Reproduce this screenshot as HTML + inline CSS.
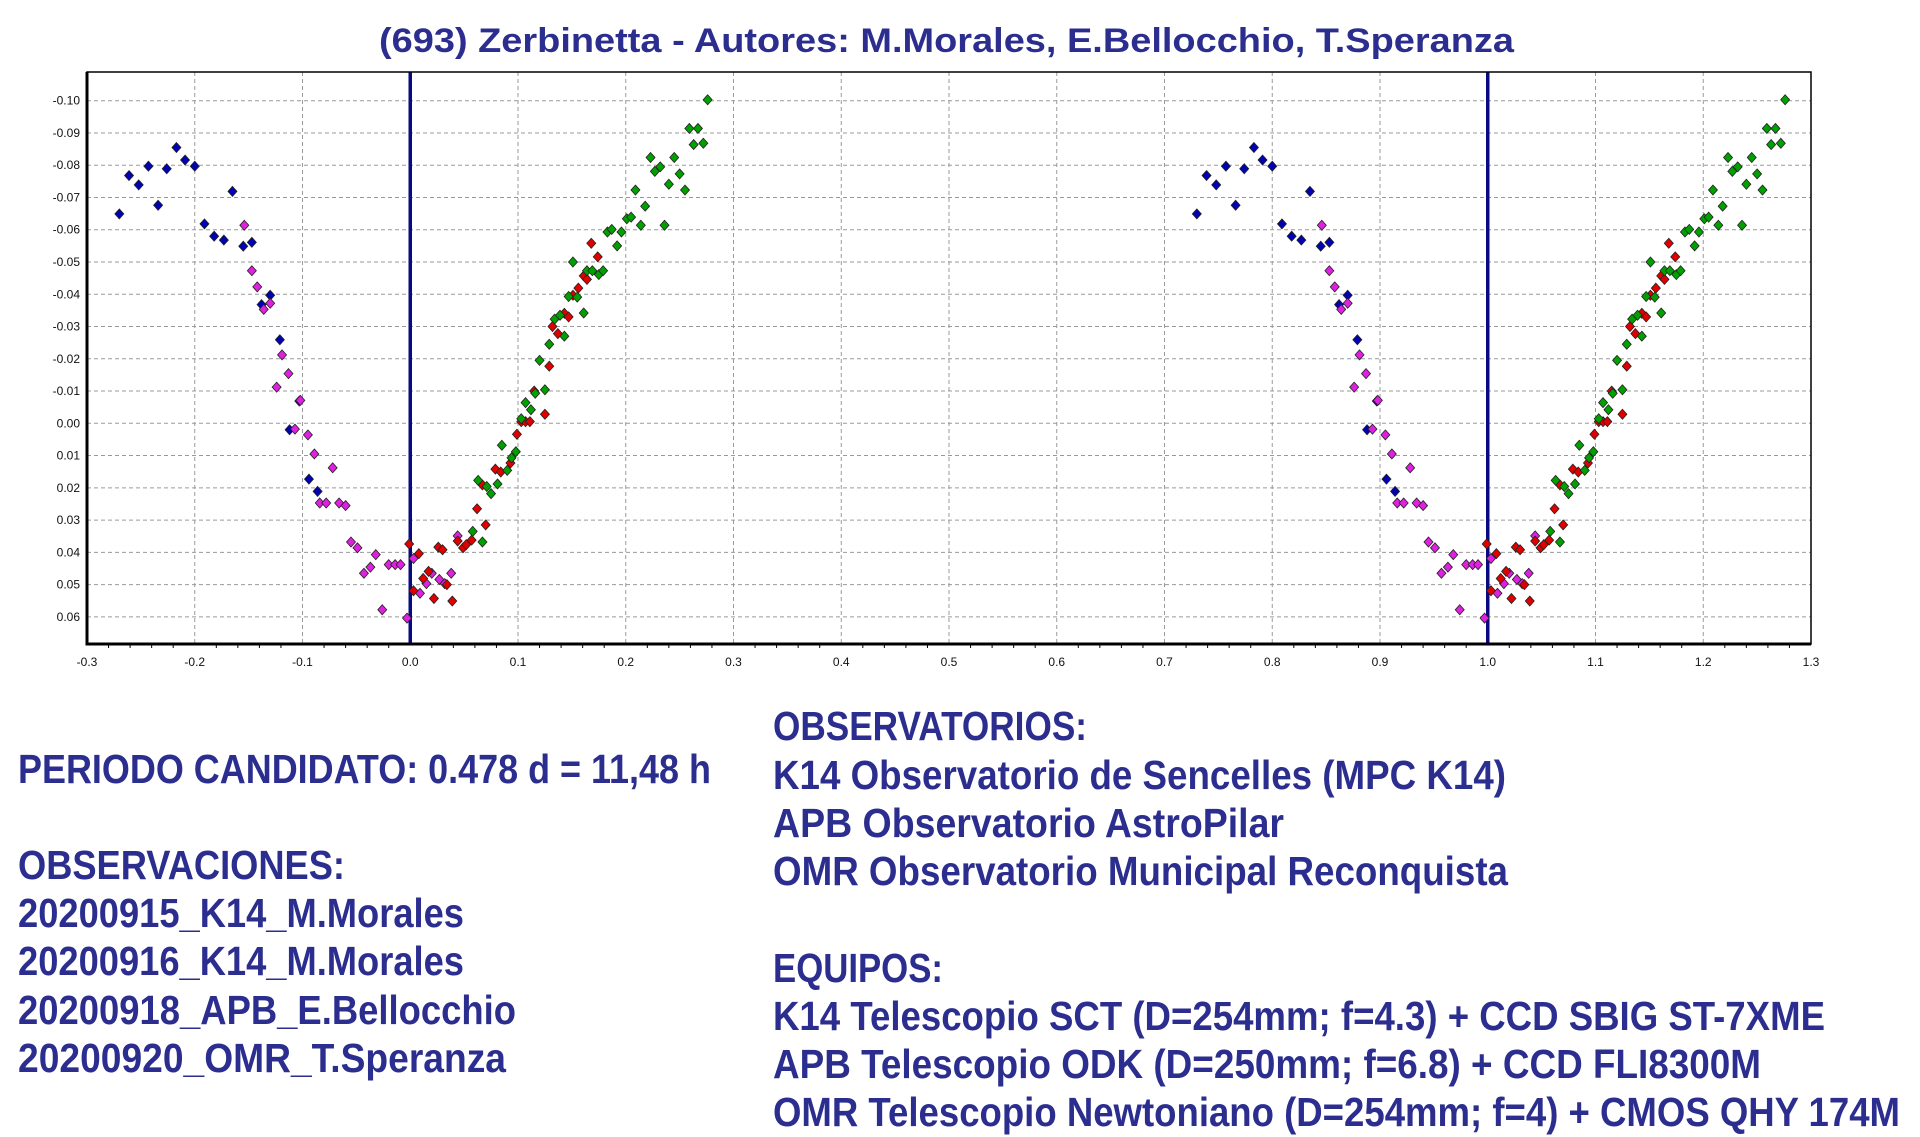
<!DOCTYPE html>
<html><head><meta charset="utf-8"><style>
html,body{margin:0;padding:0;background:#fff;}
svg{display:block;}
.t{font-family:"Liberation Sans",sans-serif;font-weight:bold;fill:#2b2e8e;}
.tick{font-family:"Liberation Sans",sans-serif;font-size:12px;fill:#111;}
</style></head><body>
<svg id="chart" width="1920" height="1137" viewBox="0 0 1920 1137">
<text class="t" x="379" y="52" font-size="34" textLength="1135" lengthAdjust="spacingAndGlyphs">(693) Zerbinetta - Autores: M.Morales, E.Bellocchio, T.Speranza</text>
<g id="grid"></g>
<g id="marks"></g>
<g id="frame"></g>
<g>
<text class="t" x="18" y="783" font-size="41" textLength="693" lengthAdjust="spacingAndGlyphs">PERIODO CANDIDATO: 0.478 d = 11,48 h</text>
<text class="t" x="18" y="879" font-size="41" textLength="327" lengthAdjust="spacingAndGlyphs">OBSERVACIONES:</text>
<text class="t" x="18" y="927" font-size="41" textLength="446" lengthAdjust="spacingAndGlyphs">20200915_K14_M.Morales</text>
<text class="t" x="18" y="975" font-size="41" textLength="446" lengthAdjust="spacingAndGlyphs">20200916_K14_M.Morales</text>
<text class="t" x="18" y="1024" font-size="41" textLength="498" lengthAdjust="spacingAndGlyphs">20200918_APB_E.Bellocchio</text>
<text class="t" x="18" y="1072" font-size="41" textLength="488" lengthAdjust="spacingAndGlyphs">20200920_OMR_T.Speranza</text>
</g>
<g>
<text class="t" x="773" y="740" font-size="41" textLength="314" lengthAdjust="spacingAndGlyphs">OBSERVATORIOS:</text>
<text class="t" x="773" y="789" font-size="41" textLength="733" lengthAdjust="spacingAndGlyphs">K14 Observatorio de Sencelles (MPC K14)</text>
<text class="t" x="773" y="837" font-size="41" textLength="511" lengthAdjust="spacingAndGlyphs">APB Observatorio AstroPilar</text>
<text class="t" x="773" y="885" font-size="41" textLength="735" lengthAdjust="spacingAndGlyphs">OMR Observatorio Municipal Reconquista</text>
<text class="t" x="773" y="982" font-size="41" textLength="170" lengthAdjust="spacingAndGlyphs">EQUIPOS:</text>
<text class="t" x="773" y="1030" font-size="41" textLength="1052" lengthAdjust="spacingAndGlyphs">K14 Telescopio SCT (D=254mm; f=4.3) + CCD SBIG ST-7XME</text>
<text class="t" x="773" y="1078" font-size="41" textLength="988" lengthAdjust="spacingAndGlyphs">APB Telescopio ODK (D=250mm; f=6.8) + CCD FLI8300M</text>
<text class="t" x="773" y="1126" font-size="41" textLength="1127" lengthAdjust="spacingAndGlyphs">OMR Telescopio Newtoniano (D=254mm; f=4) + CMOS QHY 174M</text>
</g>
</svg>
<script>
const xTicks=[-0.3,-0.2,-0.1,0.0,0.1,0.2,0.3,0.4,0.5,0.6,0.7,0.8,0.9,1.0,1.1,1.2,1.3];
const yTicks=[-0.10,-0.09,-0.08,-0.07,-0.06,-0.05,-0.04,-0.03,-0.02,-0.01,0.00,0.01,0.02,0.03,0.04,0.05,0.06];
const markerLines=[0.0,1.0];
const bluePhase=[-0.270,-0.261,-0.252,-0.243,-0.234,-0.226,-0.217,-0.209,-0.200,-0.191,-0.182,-0.173,-0.165,-0.155,-0.147,-0.138,-0.130,-0.121,-0.103,-0.112,-0.094,-0.086];
const blueMag=[-0.0649,-0.0768,-0.0739,-0.0797,-0.0676,-0.0789,-0.0855,-0.0816,-0.0797,-0.0618,-0.0580,-0.0568,-0.0719,-0.0549,-0.0561,-0.0368,-0.0397,-0.0259,-0.0069,0.0020,0.0173,0.0211];
const magentaPhase=[-0.154,-0.147,-0.142,-0.136,-0.130,-0.119,-0.113,-0.124,-0.102,-0.107,-0.095,-0.089,-0.072,-0.084,-0.078,-0.066,-0.060,-0.055,-0.049,-0.032,-0.043,-0.037,-0.020,-0.014,-0.009,-0.026,-0.003,0.003,0.009,0.015,0.020,0.027,0.032,0.038,0.044];
const magentaMag=[-0.0614,-0.0473,-0.0423,-0.0353,-0.0372,-0.0212,-0.0154,-0.0112,-0.0071,0.0018,0.0036,0.0095,0.0138,0.0247,0.0247,0.0247,0.0255,0.0368,0.0386,0.0407,0.0465,0.0446,0.0438,0.0438,0.0438,0.0578,0.0604,0.0419,0.0527,0.0497,0.0465,0.0484,0.0497,0.0465,0.0349];
const redPhase=[-0.001,0.008,0.003,0.012,0.017,0.022,0.026,0.030,0.034,0.039,0.044,0.049,0.052,0.057,0.062,0.070,0.067,0.079,0.084,0.093,0.099,0.103,0.107,0.111,0.125,0.115,0.129,0.132,0.137,0.143,0.147,0.151,0.156,0.161,0.164,0.168,0.174];
const redMag=[0.0374,0.0404,0.0519,0.0481,0.0459,0.0543,0.0384,0.0392,0.0500,0.0551,0.0365,0.0386,0.0376,0.0362,0.0265,0.0315,0.0191,0.0142,0.0151,0.0123,0.0034,-0.0005,-0.0005,-0.0005,-0.0028,-0.0100,-0.0177,-0.0300,-0.0278,-0.0341,-0.0330,-0.0397,-0.0419,-0.0457,-0.0446,-0.0558,-0.0516];
const greenPhase=[0.063,0.071,0.075,0.081,0.085,0.090,0.094,0.098,0.067,0.058,0.103,0.107,0.112,0.116,0.125,0.120,0.129,0.134,0.139,0.143,0.147,0.155,0.151,0.161,0.164,0.169,0.175,0.179,0.183,0.187,0.192,0.196,0.201,0.205,0.209,0.214,0.218,0.223,0.227,0.232,0.236,0.240,0.245,0.250,0.255,0.259,0.263,0.267,0.272,0.276];
const greenMag=[0.0177,0.0196,0.0218,0.0188,0.0068,0.0146,0.0107,0.0088,0.0368,0.0335,-0.0014,-0.0064,-0.0042,-0.0093,-0.0104,-0.0195,-0.0245,-0.0323,-0.0335,-0.0270,-0.0393,-0.0391,-0.0500,-0.0342,-0.0473,-0.0473,-0.0461,-0.0473,-0.0593,-0.0601,-0.0550,-0.0593,-0.0634,-0.0639,-0.0723,-0.0614,-0.0673,-0.0824,-0.0781,-0.0795,-0.0614,-0.0741,-0.0824,-0.0773,-0.0723,-0.0914,-0.0864,-0.0914,-0.0868,-0.1003];

const NS='http://www.w3.org/2000/svg';
const L=87,R=1811,T=72,B=644;
const X=p=>L+(p+0.3)/1.6*(R-L);
const Y=m=>423.3+m*3226;
function mk(tag,attrs,parent){const e=document.createElementNS(NS,tag);for(const k in attrs)e.setAttribute(k,attrs[k]);parent.appendChild(e);return e;}
const grid=document.getElementById('grid'),marks=document.getElementById('marks'),frame=document.getElementById('frame');
xTicks.forEach(v=>{
  const x=X(v);
  const g=mk('line',{x1:x,y1:T,x2:x,y2:B,stroke:'#9a9a9a','stroke-width':1,'stroke-dasharray':'4,3'},grid);
  
  
  const t=mk('text',{x:x,y:666,'text-anchor':'middle',class:'tick'},grid);
  t.textContent=v.toFixed(1);
  
  
});
for(let i=0;i<xTicks.length-1;i++){for(let j=1;j<5;j++){const x=X(xTicks[i]+j*0.02);
  const m=mk('line',{x1:x,y1:B,x2:x,y2:B+4,stroke:'#000','stroke-width':1},frame);
  
  }}
yTicks.forEach(v=>{
  const y=Y(v);
  const g=mk('line',{x1:L,y1:y,x2:R,y2:y,stroke:'#9a9a9a','stroke-width':1,'stroke-dasharray':'4,3'},grid);
  
  
  const t=mk('text',{x:80,y:y+4,'text-anchor':'end',class:'tick'},grid);
  t.textContent=(Math.abs(v)<1e-9?'0.00':v.toFixed(2));
  
  
});
markerLines.forEach(v=>{
  const l=mk('line',{x1:X(v),y1:T,x2:X(v),y2:B,stroke:'#0a0a80','stroke-width':3.5},marks);
  
  
});
function series(ph,mg,color,name){
  for(let k=0;k<2;k++){
    ph.forEach((p,i)=>{
      const x=X(p+k),y=Y(mg[i]);
      const d=mk('polygon',{points:`${x},${y-5} ${x+4.5},${y} ${x},${y+5} ${x-4.5},${y}`,fill:color,stroke:'#222','stroke-width':0.8},marks);
      
      
    });
  }
}
series(bluePhase,blueMag,'#0000b4','point-20200915');
series(magentaPhase,magentaMag,'#e020e0','point-20200916');
series(redPhase,redMag,'#e00000','point-20200918');
series(greenPhase,greenMag,'#00a000','point-20200920');
const fr=mk('rect',{x:L,y:T,width:R-L,height:B-T,fill:'none',stroke:'#000','stroke-width':1.5},frame);


const ax=mk('path',{d:`M${L},${T} L${L},${B} L${R},${B}`,fill:'none',stroke:'#000','stroke-width':3},frame);


</script>
</body></html>
